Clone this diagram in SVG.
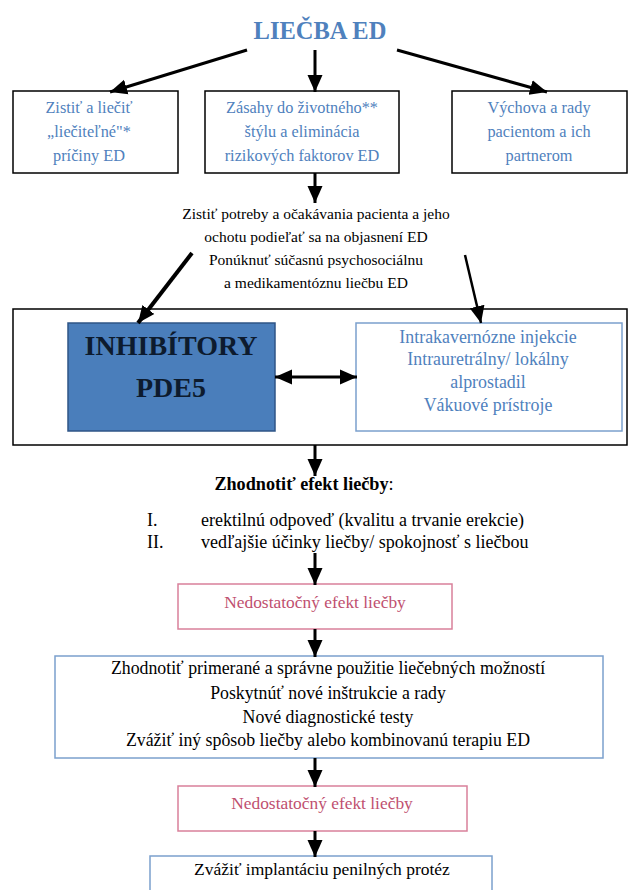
<svg xmlns="http://www.w3.org/2000/svg" width="628" height="890" viewBox="0 0 628 890">
<defs>
<style>
text{font-family:"Liberation Serif","DejaVu Serif",serif;text-anchor:middle}
.r1{font-size:16.3px;fill:#4f81bd}
.t{font-size:15.5px;fill:#000}
.b{font-size:17.9px;fill:#4f81bd}
.m{font-size:17.8px;fill:#000}
.p{font-size:17.4px;fill:#c0506f}
.box{fill:#fff;stroke:#000;stroke-width:1.5}
.lbox{fill:#fff;stroke:#7ba0cd;stroke-width:1.5}
.pbox{fill:#fff;stroke:#d9809a;stroke-width:1.5}
.c{stroke:#000;stroke-width:3;fill:none}
</style>
<marker id="ah" markerUnits="userSpaceOnUse" markerWidth="18" markerHeight="18" viewBox="0 0 18 18" refX="17" refY="9" orient="auto-start-reverse">
<path d="M0,1.5 L17,9 L0,16.5 Z" fill="#000"/>
</marker>
</defs>
<rect width="628" height="890" fill="#fff"/>
<g id="title"><text x="320" y="39" style="font-size:24.5px;font-weight:bold;fill:#4f81bd">LIEČBA ED</text></g>
<g id="n1"><rect class="box" x="13" y="91" width="165" height="82"/>
<text class="r1" x="89" y="113">Zistiť a liečiť</text><text class="r1" x="89" y="137">„liečiteľné"*</text><text class="r1" x="89" y="161">príčiny ED</text></g>
<g id="n2"><rect class="box" x="205" y="91" width="194" height="82"/>
<text class="r1" x="302" y="113">Zásahy do životného**</text><text class="r1" x="302" y="137">štýlu a eliminácia</text><text class="r1" x="302" y="161">rizikových faktorov ED</text></g>
<g id="n3"><rect class="box" x="452" y="91" width="175" height="82"/>
<text class="r1" x="539" y="113">Výchova a rady</text><text class="r1" x="539" y="137">pacientom a ich</text><text class="r1" x="539" y="161">partnerom</text></g>
<g id="n4"><text class="t" x="316" y="219">Zistiť potreby a očakávania pacienta a jeho</text><text class="t" x="316" y="242">ochotu podieľať sa na objasnení ED</text><text class="t" x="316" y="265">Ponúknuť súčasnú psychosociálnu</text><text class="t" x="316" y="288">a medikamentóznu liečbu ED</text></g>
<g id="n5"><rect class="box" x="13" y="309" width="614" height="136"/></g>
<g id="n6"><rect x="68" y="323" width="207" height="108" fill="#4a7ebb" stroke="#2f5587" stroke-width="1.5"/>
<text x="171" y="355" style="font-size:28px;font-weight:bold;fill:#0d1b2e">INHIBÍTORY</text><text x="171" y="397" style="font-size:28px;font-weight:bold;fill:#0d1b2e">PDE5</text></g>
<g id="n7"><rect class="lbox" x="356" y="323" width="266" height="108"/>
<text class="b" x="488" y="343">Intrakavernózne injekcie</text><text class="b" x="488" y="365">Intrauretrálny/ lokálny</text><text class="b" x="488" y="388">alprostadil</text><text class="b" x="488" y="411">Vákuové prístroje</text></g>
<g id="n8"><text x="304" y="490" style="font-size:18.2px;font-weight:bold;fill:#000">Zhodnotiť efekt liečby<tspan style="font-weight:normal">:</tspan></text>
<text class="m" x="147" y="526" style="text-anchor:start;font-size:18px">I.</text><text class="m" x="201" y="526" style="text-anchor:start;font-size:18px">erektilnú odpoveď  (kvalitu a trvanie erekcie)</text>
<text class="m" x="147" y="548" style="text-anchor:start;font-size:18px">II.</text><text class="m" x="201" y="548" style="text-anchor:start;font-size:18px">vedľajšie účinky liečby/ spokojnosť s liečbou</text></g>
<g id="n9"><rect class="pbox" x="178" y="584" width="274" height="45"/><text class="p" x="315" y="608">Nedostatočný efekt liečby</text></g>
<g id="n10"><rect class="lbox" x="55" y="656" width="548" height="102"/>
<text class="m" x="328" y="674">Zhodnotiť primerané a správne použitie liečebných možností</text><text class="m" x="328" y="699">Poskytnúť nové inštrukcie a rady</text><text class="m" x="328" y="723">Nové diagnostické testy</text><text class="m" x="328" y="746">Zvážiť iný spôsob liečby alebo kombinovanú terapiu ED</text></g>
<g id="n11"><rect class="pbox" x="178" y="786" width="289" height="45"/><text class="p" x="322" y="809">Nedostatočný efekt liečby</text></g>
<g id="n12"><rect class="lbox" x="150" y="856" width="342" height="40"/><text class="m" x="322" y="875" style="font-size:17.5px">Zvážiť implantáciu penilných protéz</text></g>
<g id="connectors">
<line class="c" x1="247" y1="50" x2="110" y2="92" marker-end="url(#ah)"/>
<line class="c" x1="315" y1="50" x2="315" y2="92" marker-end="url(#ah)"/>
<line class="c" x1="397" y1="50" x2="547" y2="92" marker-end="url(#ah)"/>
<line class="c" x1="315" y1="173" x2="315" y2="203" marker-end="url(#ah)"/>
<line class="c" x1="192" y1="253" x2="138" y2="323" style="stroke-width:4" marker-end="url(#ah)"/>
<line class="c" x1="465" y1="255" x2="481" y2="323" style="stroke-width:2.5" marker-end="url(#ah)"/>
<line class="c" x1="275" y1="377" x2="357" y2="377" marker-start="url(#ah)" marker-end="url(#ah)"/>
<line class="c" x1="315" y1="445" x2="315" y2="476" marker-end="url(#ah)"/>
<line class="c" x1="315" y1="553" x2="315" y2="585" marker-end="url(#ah)"/>
<line class="c" x1="315" y1="629" x2="315" y2="657" marker-end="url(#ah)"/>
<line class="c" x1="315" y1="758" x2="315" y2="787" marker-end="url(#ah)"/>
<line class="c" x1="315" y1="831" x2="315" y2="857" marker-end="url(#ah)"/>
</g>
</svg>
